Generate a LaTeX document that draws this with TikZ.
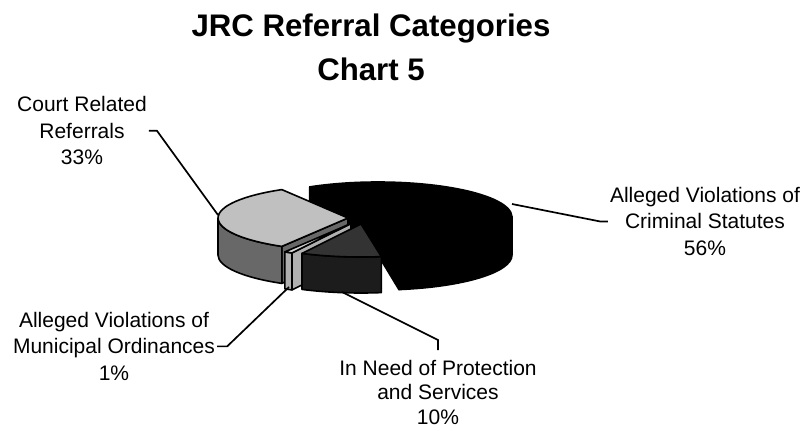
\documentclass[tikz,border=0pt]{standalone}
\usepackage{fontspec}
\setmainfont{Liberation Sans}
\definecolor{courtTop}{HTML}{C0C0C0}
\definecolor{courtWall}{HTML}{686868}
\definecolor{muniTop}{HTML}{D4D4D4}
\definecolor{muniWall}{HTML}{B0B0B0}
\definecolor{needTop}{HTML}{333333}
\definecolor{needWall}{HTML}{1C1C1C}
\begin{document}
\begin{tikzpicture}[x=1pt,y=-1pt,
  face/.style={draw=black,line width=1.6pt,line join=round},
  leader/.style={draw=black,line width=1.7pt,line join=miter},
  lbl/.style={font=\fontsize{21}{26.5}\selectfont,align=center,
              inner xsep=2pt,inner ysep=0pt,anchor=north}]
\fill[white] (0,0) rectangle (807,429);
\useasboundingbox (0,0) rectangle (807,429);

% title
\node[font=\bfseries\fontsize{31.2}{43.3}\selectfont,align=center,
      anchor=north,inner sep=0pt] (title) at (371,14)
      {JRC Referral Categories\\Chart 5};

% slice: Alleged Violations of Criminal Statutes (56%)
\begin{scope}[shift={(378,217)}]
  \path[face,fill=black] (0,0) -- (-120.6:134 and 35) -- ++(0,38) -- (0,38) -- cycle;
  \path[face,fill=black] (0,0) -- (81:134 and 35) -- ++(0,38) -- (0,38) -- cycle;
  \path[face,fill=black] (0:134 and 35)
     arc[start angle=0,end angle=81,x radius=134,y radius=35] -- ++(0,38)
     arc[start angle=81,end angle=0,x radius=134,y radius=35] -- cycle;
  \path[face,fill=black] (0,0) -- (-120.6:134 and 35)
     arc[start angle=-120.6,end angle=81,x radius=134,y radius=35] -- cycle;
\end{scope}

% slice: Court Related Referrals (33%)
\begin{scope}[shift={(348,218)}]
  \path[face,fill=courtWall] (0,0) -- (120.6:130 and 33) -- ++(0,37) -- (0,37) -- cycle;
  \path[face,fill=courtWall] (120.6:130 and 33)
     arc[start angle=120.6,end angle=180,x radius=130,y radius=33] -- ++(0,37)
     arc[start angle=180,end angle=120.6,x radius=130,y radius=33] -- cycle;
  \path[face,fill=courtTop] (0,0) -- (120.6:130 and 33)
     arc[start angle=120.6,end angle=239.4,x radius=130,y radius=33] -- cycle;
\end{scope}

% slice: Alleged Violations of Municipal Ordinances (1%)
\begin{scope}[shift={(351,223.5)}]
  \path[face,fill=muniWall] (0,0) -- (117:130 and 33) -- ++(0,37) -- (0,37) -- cycle;
  \path[face,fill=muniWall] (117:130 and 33)
     arc[start angle=117,end angle=120.6,x radius=130,y radius=33] -- ++(0,37)
     arc[start angle=120.6,end angle=117,x radius=130,y radius=33] -- cycle;
  \path[face,fill=muniTop] (0,0) -- (117:130 and 33)
     arc[start angle=117,end angle=120.6,x radius=130,y radius=33] -- cycle;
\end{scope}

% slice: In Need of Protection and Services (10%)
\begin{scope}[shift={(361,224)}]
  \path[face,fill=needWall] (81:130 and 33)
     arc[start angle=81,end angle=117,x radius=130,y radius=33] -- ++(0,36)
     arc[start angle=117,end angle=81,x radius=130,y radius=33] -- cycle;
  \path[face,fill=needTop] (0,0) -- (81:130 and 33)
     arc[start angle=81,end angle=117,x radius=130,y radius=33] -- cycle;
\end{scope}

% labels
\node[lbl] (lblCourt) at (82,96.4) {Court Related\\Referrals\\33\%};
\node[lbl] (lblMuni) at (114,312) {Alleged Violations of\\Municipal Ordinances\\1\%};
\node[lbl,inner ysep=9.7pt,font=\fontsize{21}{24.5}\selectfont] (lblNeed) at (438,350)
     {In Need of Protection\\and Services\\10\%};
\node[lbl] (lblCrim) at (705,187) {Alleged Violations of\\Criminal Statutes\\56\%};

% leader ends on the slices
\coordinate (courtTip) at (218,215);
\coordinate (muniTip) at (289,287);
\coordinate (needTip) at (342,292);
\coordinate (crimTip) at (512,204);

\draw[leader] (lblCourt.east) -- ++(8,0) -- (courtTip);
\draw[leader] (lblMuni.east) -- ++(10,0) -- (muniTip);
\draw[leader] (lblNeed.north) -- ++(0,-10) -- (needTip);
\draw[leader] (lblCrim.west) -- ++(-8,0) -- (crimTip);
\end{tikzpicture}
\end{document}
